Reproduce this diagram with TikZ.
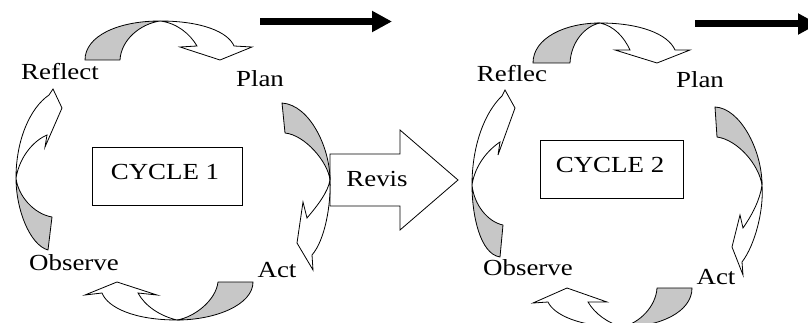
\documentclass[tikz,border=0pt]{standalone}
\usepackage{fontspec}
\setmainfont{Liberation Serif}[FakeStretch=1.17]
\usetikzlibrary{arrows.meta}
\begin{document}
\begin{tikzpicture}[x=1pt,y=-1pt,
  back/.style={draw=black, fill=black!22, line width=0.8pt, line join=round},
  front/.style={draw=black, fill=white, line width=0.8pt, line join=miter},
  lbl/.style={anchor=base, inner sep=0pt, font=\fontsize{23}{27}\selectfont},
  box/.style={draw, line width=0.9pt, minimum width=150pt, minimum height=58pt, inner sep=0pt},
  bigarrow/.style={draw=black, line width=7pt, -{Triangle[length=20pt,width=20pt]}},
  blockarrow/.style={draw=black, fill=white, line width=0.8pt, line join=miter}]
\useasboundingbox (0,0) rectangle (808,323);
\clip (0,0) rectangle (808,323);

% black arrows at the top
\coordinate (s1) at (260,21.5);
\coordinate (e1) at (392,21.5);
\draw[bigarrow] (s1) -- (e1);
\coordinate (s2) at (695,24);
\coordinate (e2) at (818,24);
\draw[bigarrow] (s2) -- (e2);

% Revis block arrow
\draw[blockarrow] (330,154) -- (400,154) -- (400,130) -- (458,180) -- (400,230) -- (400,206) -- (330,206) -- cycle;
\node[lbl] (revis) at (377,187) {Revis};

% boxes
\node[box] (box1) at (167,176) {};
\node[lbl] (cyc1) at (165,180) {CYCLE 1};
\node[box, minimum width=143pt] (box2) at (611.5,169) {};
\node[lbl] (cyc2) at (610,173) {CYCLE 2};

% ---------------- Cycle 1 ----------------
% top (Reflect -> Plan)
\draw[back] (85,60) .. controls (85,36) and (118,21) .. (160,21) .. controls (140,24) and (121,40) .. (120,60) -- cycle;
\draw[front] (160,21) .. controls (202,21) and (228,32) .. (234,46) -- (252,47) -- (220,60) -- (180,47) -- (197,46) .. controls (190,34) and (177,23) .. (160,21) -- cycle;
% right (Plan -> Act)
\draw[back] (282,103) .. controls (310,105) and (330,148) .. (330,180) .. controls (328,162) and (305,135) .. (285,133) -- cycle;
\draw[front] (330,180) .. controls (331,205) and (325,240) .. (312,255) -- (313,270) -- (297,243) -- (303,202) -- (307,218) .. controls (318,205) and (328,192) .. (330,180) -- cycle;
% bottom (Act -> Observe)
\draw[back] (253,282) .. controls (253,305) and (215,320) .. (177,320) .. controls (195,317) and (216,300) .. (218,282) -- cycle;
\draw[front] (177,320) .. controls (135,320) and (108,308) .. (102,293) -- (85,295) -- (117,282) -- (157,295) -- (138,293) .. controls (145,306) and (160,316) .. (177,320) -- cycle;
% left (Observe -> Reflect)
\draw[back] (48,250) .. controls (30,245) and (16,210) .. (16,178) .. controls (18,196) and (34,214) .. (52,217) -- cycle;
\draw[front] (16,178) .. controls (16,140) and (30,108) .. (49,95) -- (53,89) -- (62,108) -- (45,147) -- (47,135) .. controls (35,140) and (20,155) .. (16,178) -- cycle;

% ---------------- Cycle 2 ----------------
% top
\draw[back] (533,63) .. controls (533,38) and (565,23) .. (600,23) .. controls (585,26) and (571,42) .. (570,63) -- cycle;
\draw[front] (600,23) .. controls (640,23) and (668,34) .. (675,50) -- (690,50) -- (657,63) -- (615,50) -- (630,50) .. controls (624,37) and (614,26) .. (600,23) -- cycle;
% right
\draw[back] (715,107) .. controls (740,108) and (762,150) .. (762,185) .. controls (759,165) and (738,140) .. (717,137) -- cycle;
\draw[front] (762,185) .. controls (764,210) and (755,245) .. (742,262) -- (743,275) -- (732,247) -- (740,215) -- (743,228) .. controls (752,215) and (760,200) .. (762,185) -- cycle;
% bottom
\draw[back] (692,288) .. controls (692,312) and (660,327) .. (622,327) .. controls (640,323) and (656,306) .. (657,288) -- cycle;
\draw[front] (622,327) .. controls (580,327) and (554,315) .. (548,302) -- (533,303) -- (567,288) -- (607,302) -- (588,302) .. controls (595,314) and (608,323) .. (622,327) -- cycle;
% left
\draw[back] (500,257) .. controls (480,254) and (472,215) .. (472,185) .. controls (474,205) and (488,222) .. (503,225) -- cycle;
\draw[front] (472,185) .. controls (472,145) and (485,112) .. (502,96) -- (505,90) -- (515,108) -- (498,155) -- (500,142) .. controls (488,150) and (475,165) .. (472,185) -- cycle;

% labels
\node[lbl] (reflect1) at (60,80) {Reflect};
\node[lbl] (plan1) at (260,87) {Plan};
\node[lbl] (observe1) at (74,270) {Observe};
\node[lbl] (act1) at (277,277) {Act};
\node[lbl] (reflect2) at (512,82) {Reflec};
\node[lbl] (plan2) at (700,88) {Plan};
\node[lbl] (observe2) at (528,275) {Observe};
\node[lbl] (act2) at (716,284) {Act};
\end{tikzpicture}
\end{document}
